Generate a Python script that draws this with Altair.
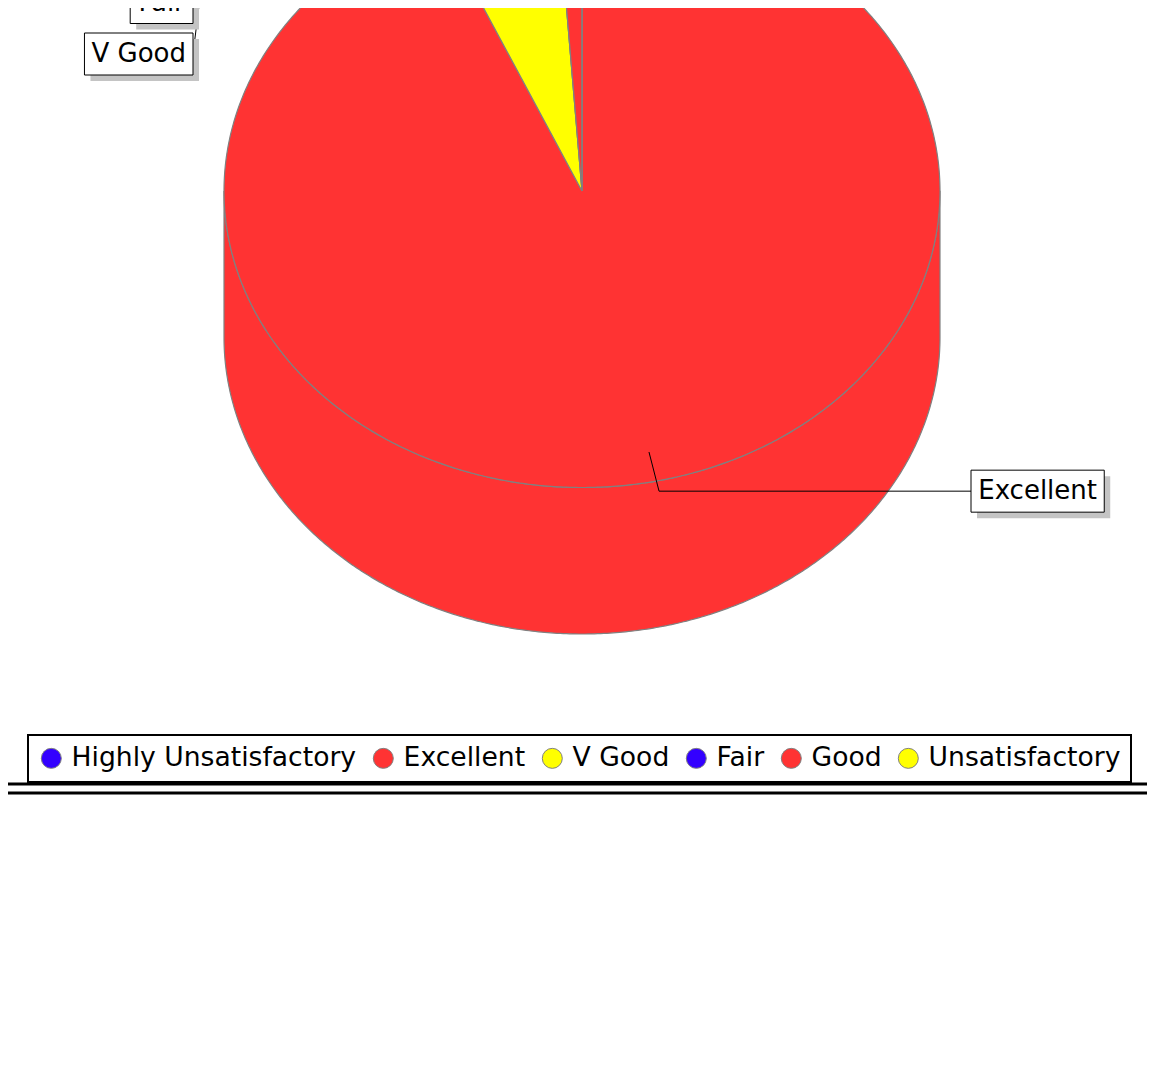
import altair as alt
import numpy as np
import pandas as pd

# ---------------- data ----------------
categories = ["Highly Unsatisfactory", "Excellent", "V Good", "Fair", "Good", "Unsatisfactory"]
counts = [0, 84, 5, 0, 1, 0]
colors = ["#3300FF", "#FF3333", "#FFFF00", "#3300FF", "#FF3333", "#FFFF00"]

# ---------------- layout (page pixels) ----------------
PAGE_W, PAGE_H, M = 1155, 1081, 8
W, H = PAGE_W - 2 * M, PAGE_H - 2 * M - 8
CX, CY = 582.0, 191.0
RX, RY = 358.0, 296.5
DEPTH = 146.5
START = 90.0
OUTLINE = "#808080"
FONT = "DejaVu Sans"
FS = 26
LEG_FS = 26.6
LINK_IN, LINK_OUT = 0.9, 1.035
LEFT_ANCHOR_X, RIGHT_ANCHOR_X = 213.0, 951.0
LABEL_GAP = 20.0
LABEL_H = 42.0
LABEL_STEP = 51.5
LABEL_TOP = -121.5
PAD = 7.0
SHADOW = 6.0

# DejaVu Sans advance widths (per 1000 em)
ADV = {" ": 318, "E": 632, "F": 575, "G": 775, "H": 752, "U": 732, "V": 684,
       "a": 613, "c": 550, "d": 635, "e": 615, "f": 352, "g": 635, "h": 634,
       "i": 278, "l": 278, "n": 634, "o": 612, "r": 411, "s": 521, "t": 392,
       "x": 592, "y": 592}


def text_w(s):
    return sum(ADV.get(ch, 600) for ch in s) * FS / 1000.0


def ex(t, r=1.0):
    return CX + r * RX * np.cos(np.radians(t))


def ey(t, r=1.0, dz=0.0):
    return CY - r * RY * np.sin(np.radians(t)) + dz


total = float(sum(counts))
cum = np.cumsum([0] + counts)
a0 = START - 360.0 * cum[:-1] / total
a1 = START - 360.0 * cum[1:] / total

# ---------------- pie geometry ----------------
top_rows, side_rows = [], []
for i, (c, s, e) in enumerate(zip(categories, a0, a1)):
    n = max(2, int(abs(s - e) / 0.5) + 1)
    ts = np.linspace(s, e, n)
    pts = [(CX, CY)] + [(ex(t), ey(t)) for t in ts] + [(CX, CY)]
    for k, (x, y) in enumerate(pts):
        top_rows.append(dict(poly=f"top{i}", cat=c, x=x, y=y, k=k))
    lo, hi = e, s
    for sh in (-1, 0, 1):
        flo, fhi = -180 + 360 * sh, 0 + 360 * sh
        l, h = max(lo, flo), min(hi, fhi)
        if h - l > 1e-9:
            m = max(2, int((h - l) / 0.5) + 1)
            tt = np.linspace(l, h, m)
            p = [(ex(t), ey(t)) for t in tt] + [(ex(t), ey(t, dz=DEPTH)) for t in tt[::-1]]
            p.append(p[0])
            for k, (x, y) in enumerate(p):
                side_rows.append(dict(poly=f"side{i}_{sh}", cat=c, x=x, y=y, k=k))

top_df = pd.DataFrame(top_rows)
side_df = pd.DataFrame(side_rows)

# ---------------- labels ----------------
mid = (a0 + a1) / 2.0
labels = []
for i, c in enumerate(categories):
    side = "left" if np.cos(np.radians(mid[i])) < 0 else "right"
    labels.append(dict(cat=c, side=side, m=mid[i], want=ey(mid[i], LINK_OUT)))
for side in ("left", "right"):
    grp = sorted([d for d in labels if d["side"] == side], key=lambda d: d["want"])
    prev = LABEL_TOP + LABEL_H / 2 - LABEL_STEP
    for d in grp:
        d["yy"] = max(d["want"], prev + LABEL_STEP)
        prev = d["yy"]

box_rows, link_rows = [], []
for j, d in enumerate(labels):
    w = text_w(d["cat"]) + 2 * PAD
    if d["side"] == "right":
        x0 = RIGHT_ANCHOR_X + LABEL_GAP
        anchor = RIGHT_ANCHOR_X
        tx = x0
    else:
        x0 = LEFT_ANCHOR_X - LABEL_GAP - w
        anchor = LEFT_ANCHOR_X
        tx = x0 + w
    yy = d["yy"]
    box_rows.append(dict(cat=d["cat"], x0=x0, x1=x0 + w, y0=yy - LABEL_H / 2, y1=yy + LABEL_H / 2,
                         sx0=x0 + SHADOW, sx1=x0 + w + SHADOW, sy0=yy - LABEL_H / 2 + SHADOW,
                         sy1=yy + LABEL_H / 2 + SHADOW, xc=x0 + w / 2, yc=yy))
    m = d["m"]
    ptsl = [(ex(m, LINK_IN), ey(m, LINK_IN)), (ex(m, LINK_OUT), ey(m, LINK_OUT)),
            (anchor, ey(m, LINK_OUT)), (tx, yy)]
    for k, (x, y) in enumerate(ptsl):
        link_rows.append(dict(lid=f"l{j}", x=x, y=y, k=k))
box_df = pd.DataFrame(box_rows)
link_df = pd.DataFrame(link_rows)

rule_df = pd.DataFrame({"x": [0.0, 0.0], "x2": [float(PAGE_W), float(PAGE_W)], "y": [784.0, 793.0]})

# ---------------- scales ----------------
xs = alt.Scale(domain=[M, M + W], nice=False, zero=False)
ys = alt.Scale(domain=[M, M + H], reverse=True, nice=False, zero=False)
fill_scale = alt.Scale(domain=categories, range=colors)

X = lambda f: alt.X(f, type="quantitative", scale=xs, axis=None)
Y = lambda f: alt.Y(f, type="quantitative", scale=ys, axis=None)


def legend():
    return alt.Legend(
        orient="none", legendX=20, legendY=727, direction="horizontal", title=None,
        symbolType="circle", symbolSize=400, symbolStrokeColor=OUTLINE, symbolStrokeWidth=1,
        symbolOpacity=1, labelFont=FONT, labelFontSize=LEG_FS, labelColor="black", labelLimit=1000,
        labelOffset=7, columnPadding=13, padding=10, strokeColor="black", fillColor="white")


sides = alt.Chart(side_df).mark_line(stroke=OUTLINE, strokeWidth=1.2, strokeJoin="round").encode(
    x=X("x"), y=Y("y"),
    fill=alt.Fill("cat:N", scale=fill_scale, legend=legend()),
    detail="poly:N", order="k:Q")

top = alt.Chart(top_df).mark_line(stroke=OUTLINE, strokeWidth=1.2, strokeJoin="round").encode(
    x=X("x"), y=Y("y"),
    fill=alt.Fill("cat:N", scale=fill_scale, legend=legend()),
    detail="poly:N", order="k:Q")

links = alt.Chart(link_df).mark_line(color="black", strokeWidth=1).encode(
    x=X("x"), y=Y("y"), detail="lid:N", order="k:Q")

shadows = alt.Chart(box_df).mark_rect(fill="#C4C4C4").encode(
    x=X("sx0"), x2="sx1", y=Y("sy0"), y2="sy1")

boxes = alt.Chart(box_df).mark_rect(fill="white", stroke="black", strokeWidth=1).encode(
    x=X("x0"), x2="x1", y=Y("y0"), y2="y1")

texts = alt.Chart(box_df).mark_text(font=FONT, fontSize=FS, color="black", align="center",
                                    baseline="middle").encode(
    x=X("xc"), y=Y("yc"), text="cat:N")

rules = alt.Chart(rule_df).mark_rule(color="black", strokeWidth=3).encode(
    x=X("x"), x2="x2", y=Y("y"))

chart = alt.layer(sides, top, links, shadows, boxes, texts, rules).properties(
    width=W, height=H, autosize="none", padding=0, background="white"
).configure_view(stroke=None).configure_legend(strokeWidth=2)

chart.save("out.html", embed_options={"renderer": "svg", "actions": False})
